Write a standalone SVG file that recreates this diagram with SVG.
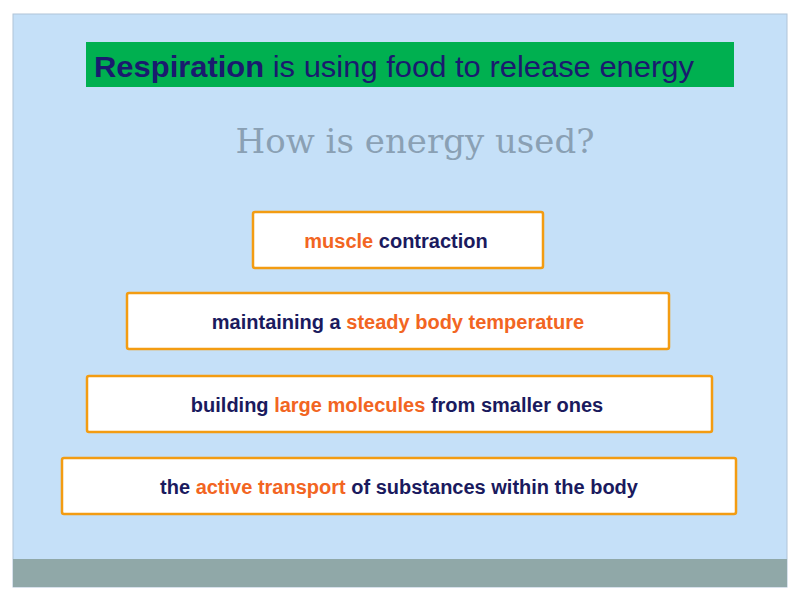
<svg xmlns="http://www.w3.org/2000/svg" width="800" height="600" viewBox="0 0 800 600">
<style>
.box{fill:#fff;stroke:#f39c12;stroke-width:2.5}
.t{font-family:"Liberation Sans",Arial,sans-serif;font-size:20px;font-weight:bold;fill:#1a1a5e;text-anchor:middle}
.o{fill:#f26522}
</style>
<rect width="800" height="600" fill="#fff"/>
<rect x="13" y="14" width="774" height="573" fill="#c5e0f8" stroke="#b0c4d8"/>
<rect x="13" y="559" width="774" height="28" fill="#90a8a8"/>
<rect x="86" y="42" width="648" height="45" fill="#00b050"/>
<text x="94" y="77" font-family="Liberation Sans,Arial,sans-serif" font-size="30" fill="#1a1a6e" textLength="600" lengthAdjust="spacingAndGlyphs"><tspan font-weight="bold">Respiration</tspan> is using food to release energy</text>
<text x="415" y="153" font-family="DejaVu Serif,serif" font-size="34" fill="#8aa0b4" text-anchor="middle">How is energy used?</text>
<g id="n1"><rect class="box" x="253" y="212" width="290" height="56" rx="2"/><text class="t" x="396" y="248"><tspan class="o">muscle</tspan> contraction</text></g>
<g id="n2"><rect class="box" x="127" y="293" width="542" height="56" rx="2"/><text class="t" x="398" y="329">maintaining a <tspan class="o">steady body temperature</tspan></text></g>
<g id="n3"><rect class="box" x="87" y="376" width="625" height="56" rx="2"/><text class="t" x="397" y="412">building <tspan class="o">large molecules</tspan> from smaller ones</text></g>
<g id="n4"><rect class="box" x="62" y="458" width="674" height="56" rx="2"/><text class="t" x="399" y="494">the <tspan class="o">active transport</tspan> of substances within the body</text></g>
<g id="connectors"/>
</svg>
